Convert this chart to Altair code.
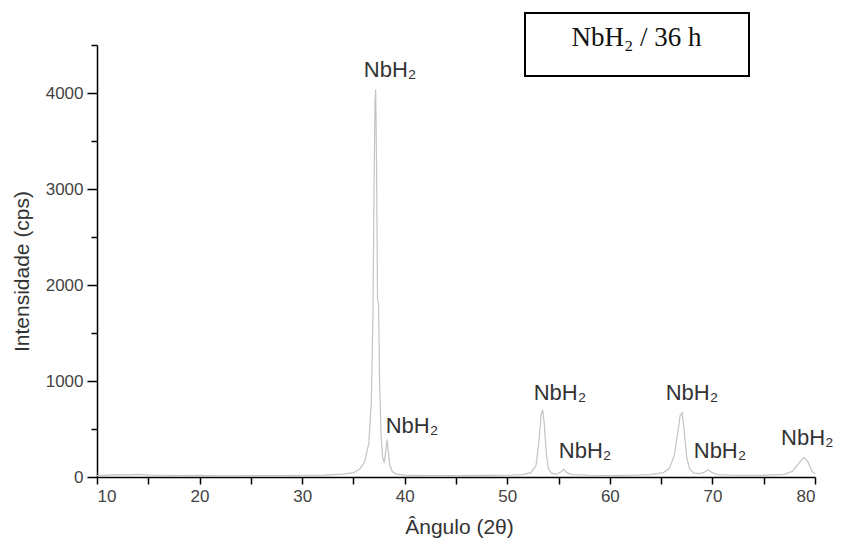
import altair as alt
import pandas as pd

# Diffractogram (2-theta in degrees, intensity in cps)
angle = [10, 11, 12, 13, 14, 15, 16, 18, 20, 22, 25, 28, 30, 32, 34, 35,
         35.6, 36.1, 36.5, 36.75, 36.9, 37.0, 37.1, 37.17, 37.25, 37.35, 37.45,
         37.55, 37.7, 37.85, 38.0, 38.15, 38.28, 38.4, 38.55, 38.8, 39.2, 40,
         42, 45, 48, 50, 51.5, 52.3, 52.8, 53.1, 53.3, 53.45, 53.6, 53.8, 54.0,
         54.3, 54.8, 55.2, 55.5, 55.8, 56.3, 58, 60, 62, 64, 65.2, 65.8, 66.3,
         66.6, 66.85, 67.05, 67.25, 67.5, 67.8, 68.2, 68.8, 69.3, 69.6, 69.9,
         70.5, 72, 75, 77, 77.8, 78.4, 78.9, 79.3, 79.7, 80]
intensity = [15, 20, 25, 22, 28, 20, 18, 15, 18, 12, 14, 15, 18, 20, 30, 45,
             80, 160, 350, 800, 1650, 2900, 3900, 4040, 3300, 1850, 1800,
             1000, 420, 200, 150, 270, 390, 260, 120, 55, 30, 20,
             15, 14, 16, 18, 25, 45, 120, 380, 650, 700, 560, 250, 90,
             40, 30, 50, 80, 45, 25, 18, 15, 18, 25, 45, 90, 230,
             450, 640, 670, 480, 200, 80, 40, 35, 55, 75, 50,
             25, 18, 20, 28, 60, 140, 205, 160, 60, 30]
assert len(angle) == len(intensity)

# Peak labels
label_text = ["NbH₂"] * 7
label_angle = [38.57, 40.71, 55.14, 57.58, 68.0, 70.74, 79.25]
label_intensity = [4167, 458, 802, 198, 802, 198, 333]

box_title = "NbH₂ / 36 h"

df = pd.DataFrame({"angle": angle, "intensity": intensity})
lab = pd.DataFrame({"angle": label_angle, "intensity": label_intensity, "t": label_text})
one = pd.DataFrame({"a": [0]})

FONT = "Liberation Sans"

xscale = alt.Scale(domain=[10, 80], nice=False, zero=False)
yscale = alt.Scale(domain=[0, 4500], nice=False)

xaxis = alt.Axis(
    values=list(range(10, 81, 5)),
    labelExpr="datum.value % 10 === 0 ? datum.label : ''",
    format="d",
    title="Ângulo (2θ)",
    titleX=362, titleY=50, titleBaseline="middle",
    tickSize=7, labelPadding=4,
)
yaxis = alt.Axis(
    values=list(range(0, 4501, 500)),
    labelExpr="datum.value % 1000 === 0 ? datum.label : ''",
    format="d",
    title="Intensidade (cps)",
    titleX=-75, titleY=226, titleBaseline="middle",
    tickSize={"condition": {"test": "datum.value % 1000 === 0", "value": 10}, "value": 6},
    labelPadding=4,
)

line = alt.Chart(df).mark_line(color="#c4c4c4", strokeWidth=1.2).encode(
    x=alt.X("angle:Q", scale=xscale, axis=xaxis),
    y=alt.Y("intensity:Q", scale=yscale, axis=yaxis),
)

labels = alt.Chart(lab).mark_text(
    font=FONT, fontSize=22, color="#333333", align="center", baseline="alphabetic"
).encode(
    x=alt.X("angle:Q", scale=xscale),
    y=alt.Y("intensity:Q", scale=yscale),
    text="t:N",
)

box = alt.Chart(one).mark_rect(fill="white", stroke="black", strokeWidth=2).encode(
    x=alt.value(428), x2=alt.value(652), y=alt.value(-32), y2=alt.value(31)
)
box_text = alt.Chart(one).mark_text(
    font="Liberation Serif", fontSize=27, color="#111111", text=box_title,
    align="center", baseline="alphabetic"
).encode(x=alt.value(539.5), y=alt.value(1))

chart = alt.layer(line, labels, box, box_text).properties(
    width=718, height=432,
    autosize=alt.AutoSizeParams(type="none"),
    padding={"left": 89, "top": 37, "right": 20, "bottom": 63},
).configure_view(stroke=None).configure_axis(
    grid=False,
    domainColor="black", domainWidth=1.5,
    tickColor="black", tickWidth=1.5,
    labelFont=FONT, labelFontSize=17, labelColor="#444444",
    titleFont=FONT, titleFontSize=21, titleColor="#333333", titleFontWeight="normal",
)

chart.save("out.html", embed_options={"renderer": "svg", "actions": False})
